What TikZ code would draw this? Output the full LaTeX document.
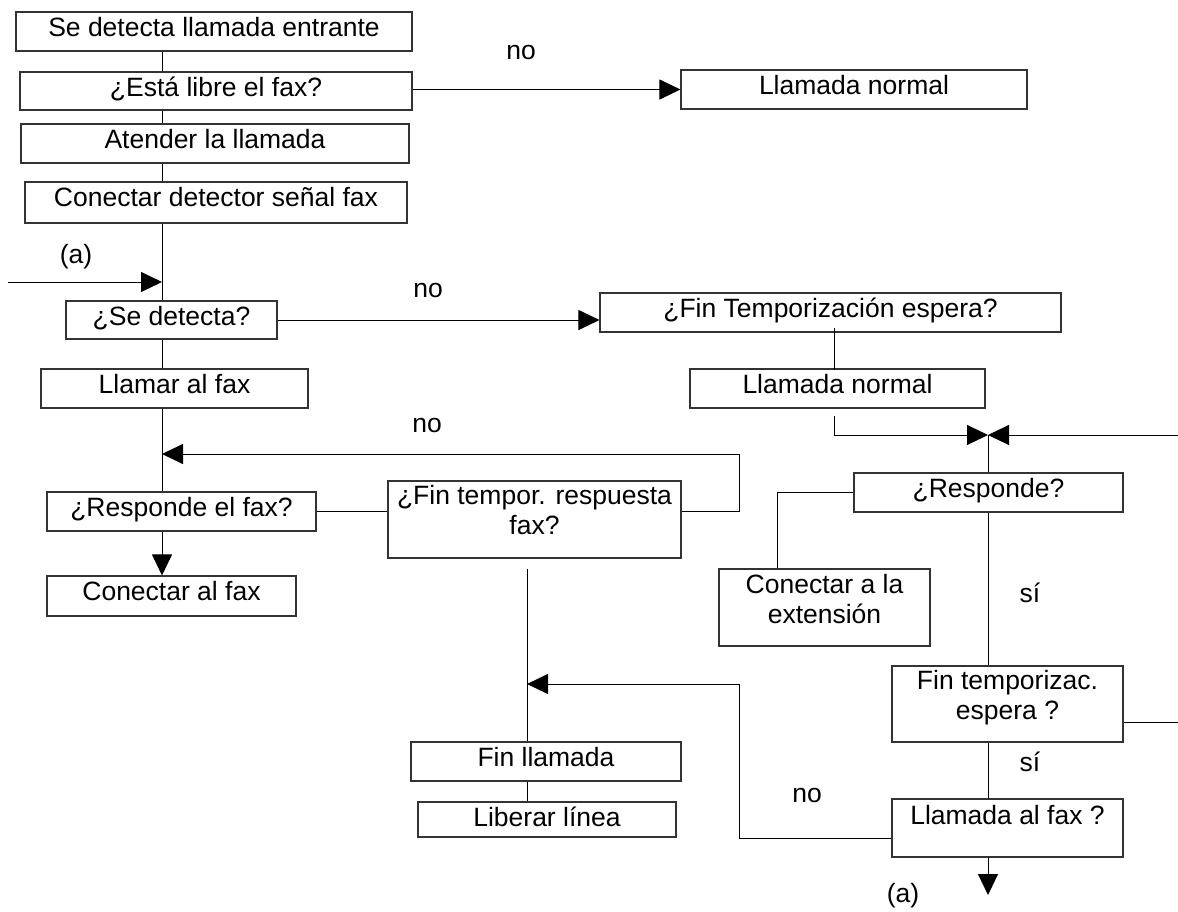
\documentclass[tikz,border=0pt]{standalone}
\usepackage{fontspec}
\setmainfont{Liberation Sans}
\usetikzlibrary{arrows.meta}
\newcommand\diafont{\fontsize{26.5}{30}\selectfont}
\newcommand\ml[1]{\begin{tabular}[t]{@{}c@{}}#1\end{tabular}}
\tikzset{
  bx/.style={draw=black!80, line width=1.1pt, inner sep=0pt, fill=white},
  tx/.style={inner sep=0pt, anchor=base, font=\diafont},
  lbl/.style={inner sep=0pt, font=\diafont},
  ln/.style={line width=1pt, black},
  arr/.style={ln, -{Triangle[length=21pt,width=20pt]}},
}
\begin{document}
\begin{tikzpicture}[x=1pt,y=-1pt]
\useasboundingbox (0,0) rectangle (1178,911);
% boxes
\node[bx, minimum width=396pt, minimum height=39pt] (b1) at (214,31.5) {};
\node[bx, minimum width=392pt, minimum height=38pt] (b2) at (216,91) {};
\node[bx, minimum width=388pt, minimum height=39pt] (b3) at (215,143.5) {};
\node[bx, minimum width=382pt, minimum height=41pt] (b4) at (216,202.5) {};
\node[bx, minimum width=346pt, minimum height=39pt] (ln1) at (854,89.5) {};
\node[bx, minimum width=211pt, minimum height=38pt] (sd) at (171.5,320) {};
\node[bx, minimum width=461pt, minimum height=39pt] (ft) at (830.5,312.5) {};
\node[bx, minimum width=295pt, minimum height=39pt] (ln2) at (837.5,388.5) {};
\node[bx, minimum width=267pt, minimum height=39pt] (lf) at (174.5,388.5) {};
\node[bx, minimum width=269pt, minimum height=39pt] (rf) at (181.5,511.5) {};
\node[bx, minimum width=293pt, minimum height=77pt] (ftr) at (534.5,519.5) {};
\node[bx, minimum width=249pt, minimum height=40pt] (cf) at (171.5,596) {};
\node[bx, minimum width=269pt, minimum height=39pt] (rs) at (988.5,492.5) {};
\node[bx, minimum width=211pt, minimum height=77pt] (ce) at (824.5,607.5) {};
\node[bx, minimum width=231pt, minimum height=76pt] (ftz) at (1007.5,704) {};
\node[bx, minimum width=231pt, minimum height=58pt] (la) at (1007.5,828) {};
\node[bx, minimum width=270pt, minimum height=39pt] (fl) at (546,761.5) {};
\node[bx, minimum width=258pt, minimum height=35pt] (ll) at (547,819.5) {};
% coordinates
\coordinate (cL) at (162,0);
\coordinate (ain) at (8,282);
\coordinate (rtc) at (739,454);
\coordinate (ftrdn) at (527,569);
\coordinate (cR) at (834,0);
\coordinate (jn) at (988,435);
\coordinate (rin) at (1178,435);
\coordinate (ceL) at (777,0);
\coordinate (rout) at (1178,722);
\coordinate (lbk) at (739,684);
\coordinate (aout) at (988,895);
% connectors, left column
\draw[ln] (b1.south -| cL) -- (b2.north -| cL);
\draw[ln] (b2.south -| cL) -- (b3.north -| cL);
\draw[ln] (b3.south -| cL) -- (b4.north -| cL);
\draw[ln] (b4.south -| cL) -- (sd.north -| cL);
\draw[arr] (ain) -- (ain -| cL);
\draw[ln] (sd.south -| cL) -- (lf.north -| cL);
\draw[ln] (lf.south -| cL) -- (rf.north -| cL);
\draw[arr] (rf.south -| cL) -- (cf.north -| cL);
\draw[ln] (rf.east) -- (rf.east -| ftr.west);
\draw[arr] (ftr.east |- rf.east) -| (rtc) -- (rtc -| cL);
\draw[ln] (ftrdn) -- (fl.north -| ftrdn);
\draw[ln] (fl.south -| ftrdn) -- (ll.north -| ftrdn);
% connectors, to the right
\draw[arr] (b2.east |- ln1.west) -- (ln1.west);
\draw[arr] (sd.east) -- (sd.east -| ft.west);
\draw[ln] ([yshift=5pt]ft.south -| cR) -- ([yshift=-2pt]ln2.north -| cR);
\draw[arr] ([yshift=-7pt]ln2.south -| cR) -- (cR |- jn) -- (jn);
\draw[arr] (rin) -- (jn);
\draw[ln] (jn) -- (jn |- rs.north);
\draw[ln] (rs.west) -- (rs.west -| ceL) -- (ce.north -| ceL);
\draw[ln] (rs.south -| jn) -- (ftz.north -| jn);
\draw[ln] (ftz.east |- rout) -- (rout);
\draw[ln] (ftz.south -| jn) -- (la.north -| jn);
\draw[arr] ([yshift=-10pt]la.west) -| (lbk) -- (lbk -| ftrdn);
\draw[arr] (la.south -| jn) -- (aout);
% box texts
\node[tx] (b1t) at ([yshift=-25pt]b1.north) {Se detecta llamada entrante};
\node[tx] (b2t) at ([yshift=-25pt]b2.north) {¿Está libre el fax?};
\node[tx] (b3t) at ([yshift=-25pt]b3.north) {Atender la llamada};
\node[tx] (b4t) at ([yshift=-25pt]b4.north) {Conectar detector señal fax};
\node[tx] (ln1t) at ([yshift=-25pt]ln1.north) {Llamada normal};
\node[tx] (sdt) at ([yshift=-25pt]sd.north) {¿Se detecta?};
\node[tx] (ftt) at ([yshift=-25pt]ft.north) {¿Fin Temporización espera?};
\node[tx] (ln2t) at ([yshift=-25pt]ln2.north) {Llamada normal};
\node[tx] (lft) at ([yshift=-25pt]lf.north) {Llamar al fax};
\node[tx] (rft) at ([yshift=-25pt]rf.north) {¿Responde el fax?};
\node[tx] (ftrt) at ([yshift=-24pt]ftr.north) {\ml{¿Fin tempor. respuesta\\fax?}};
\node[tx] (cft) at ([yshift=-25pt]cf.north) {Conectar al fax};
\node[tx] (rst) at ([yshift=-25pt]rs.north) {¿Responde?};
\node[tx] (cet) at ([yshift=-25pt]ce.north) {\ml{Conectar a la\\extensión}};
\node[tx] (ftzt) at ([yshift=-24pt]ftz.north) {\ml{Fin temporizac.\\espera ?}};
\node[tx] (lat) at ([yshift=-26pt]la.north) {Llamada al fax ?};
\node[tx] (flt) at ([yshift=-25pt]fl.north) {Fin llamada};
\node[tx] (llt) at ([yshift=-25pt]ll.north) {Liberar línea};
% labels
\node[lbl] (no1) at (521,52) {no};
\node[lbl] (a1) at (76,257) {(a)};
\node[lbl] (no2) at (428,290) {no};
\node[lbl] (no3) at (427,425) {no};
\node[lbl] (si1) at (1030,593) {sí};
\node[lbl] (si2) at (1030,762) {sí};
\node[lbl] (no4) at (807,795) {no};
\node[lbl] (a2) at (903,896) {(a)};
\end{tikzpicture}
\end{document}
